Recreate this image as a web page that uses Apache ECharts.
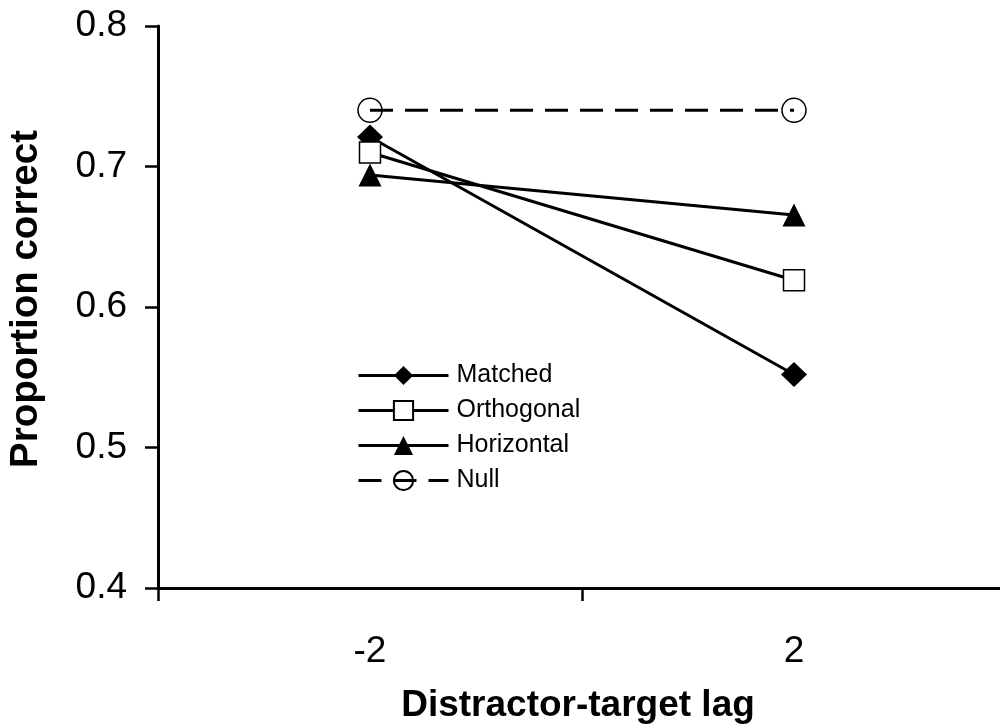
<!DOCTYPE html>
<html>
<head>
<meta charset="utf-8">
<script src="https://cdn.jsdelivr.net/npm/echarts@6/dist/echarts.min.js"></script>
<style>
  html, body { margin: 0; padding: 0; background: #fff; }
  #chart { width: 1000px; height: 728px; }
</style>
</head>
<body>
<div id="chart"></div>
<script>
// Lag conditions on the x axis
const lags = ['-2', '2'];

// Proportion correct for each distractor condition
const matched = [0.721, 0.552];
const orthogonal = [0.710, 0.619];
const horizontal = [0.694, 0.6655];
const nullCond = [0.740, 0.740];

const FONT = '"Liberation Sans", Arial, sans-serif';

const chart = echarts.init(document.getElementById('chart'), null, { renderer: 'canvas' });

function lineSeries(name, data, symbol, size, fill, dashed) {
  return {
    name: name,
    type: 'line',
    data: data,
    symbol: symbol,
    symbolSize: size,
    showAllSymbol: true,
    animation: false,
    lineStyle: {
      color: '#000',
      width: 3,
      type: dashed ? [23, 12] : 'solid'
    },
    itemStyle: {
      color: fill,
      borderColor: '#000',
      borderWidth: fill === '#000' ? 0 : 1.5
    },
    emphasis: { disabled: true }
  };
}

chart.setOption({
  backgroundColor: '#fff',
  animation: false,
  // the plot area runs a little past the right edge of the canvas
  grid: { left: 158, top: 26, bottom: 140, width: 848, outerBoundsMode: 'none', containLabel: false },
  legend: {
    orient: 'vertical',
    left: 352,
    top: 358,
    itemWidth: 90,
    itemHeight: 24,
    itemGap: 10,
    selectedMode: false,
    lineStyle: { width: 3 },
    textStyle: { fontFamily: FONT, fontSize: 25, color: '#000', lineHeight: 25, padding: [0, 0, 0, 3] },
    data: ['Matched', 'Orthogonal', 'Horizontal', 'Null']
  },
  xAxis: {
    type: 'category',
    data: lags,
    boundaryGap: true,
    name: 'Distractor-target lag',
    nameLocation: 'middle',
    nameGap: 99,
    nameTextStyle: { fontFamily: FONT, fontSize: 37, fontWeight: 'bold', color: '#000', padding: [0, 8, 0, 0] },
    axisLine: { lineStyle: { color: '#000', width: 3 } },
    axisTick: { show: true, inside: false, length: 13, alignWithLabel: false, lineStyle: { color: '#000', width: 2.5 } },
    axisLabel: { fontFamily: FONT, fontSize: 37, color: '#000', margin: 45 },
    splitLine: { show: false }
  },
  yAxis: {
    type: 'value',
    min: 0.4,
    max: 0.8,
    interval: 0.1,
    name: 'Proportion correct',
    nameLocation: 'middle',
    nameGap: 112,
    nameTextStyle: { fontFamily: FONT, fontSize: 38.5, fontWeight: 'bold', color: '#000', padding: [0, 0, 0, 16] },
    axisLine: { show: true, lineStyle: { color: '#000', width: 3 } },
    axisTick: { show: true, inside: false, length: 13, lineStyle: { color: '#000', width: 2.5 } },
    axisLabel: { fontFamily: FONT, fontSize: 37, color: '#000', margin: 31, formatter: v => v.toFixed(1) },
    splitLine: { show: false }
  },
  series: [
    lineSeries('Matched', matched, 'diamond', [26, 25], '#000', false),
    lineSeries('Orthogonal', orthogonal, 'rect', 21, '#fff', false),
    lineSeries('Horizontal', horizontal, 'triangle', 23, '#000', false),
    lineSeries('Null', nullCond, 'circle', 24, 'rgba(0,0,0,0)', true)
  ]
});
</script>
</body>
</html>
